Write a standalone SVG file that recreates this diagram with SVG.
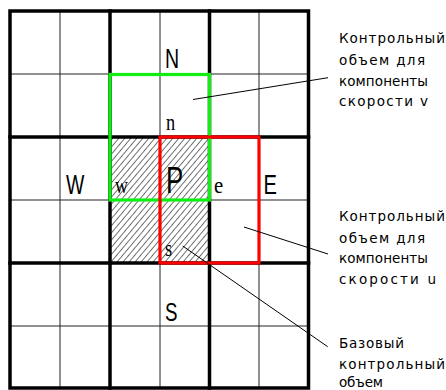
<svg xmlns="http://www.w3.org/2000/svg" width="446" height="390" viewBox="0 0 446 390">
<style>
.thin{stroke:#222;stroke-width:1;fill:none}
.thick{stroke:#000;stroke-width:3.5;fill:none;stroke-linecap:square}
.cvv{stroke:#11ee11;stroke-width:3.2;fill:none}
.cvu{stroke:#ff0000;stroke-width:3.2;fill:none}
.lead{stroke:#000;stroke-width:1;fill:none}
.big{font-family:"Liberation Sans",Arial,sans-serif;fill:#000}
.ser{font-family:"Liberation Serif","Times New Roman",serif;fill:#000;font-size:23px}
.note{font-family:"DejaVu Sans",sans-serif;font-size:13.5px;fill:#000}
</style>
<defs>
<pattern id="hatch" width="4.6" height="10" patternUnits="userSpaceOnUse" patternTransform="rotate(40)">
<line x1="0" y1="0" x2="0" y2="10" stroke="#000" stroke-width="1.1"/>
</pattern>
</defs>
<rect width="446" height="390" fill="#fff"/>
<g id="base-cv">
<rect x="110" y="137" width="99.5" height="126" fill="url(#hatch)"/>
</g>
<g id="grid">
<path class="thin" d="M60 11V388M160 11V388M259 11V388M10 74H308.5M10 200H308.5M10 326H308.5"/>
<path class="thick" d="M110 11V388M209.5 11V388M10 137H308.5M10 263H308.5"/>
<rect class="thick" x="10" y="11" width="298.5" height="377"/>
</g>
<g id="cv-v">
<rect class="cvv" x="110" y="74.5" width="99.5" height="125.5"/>
</g>
<g id="cv-u">
<rect class="cvu" x="160" y="137" width="99" height="126"/>
</g>
<g id="connectors">
<line class="lead" x1="193" y1="99.5" x2="328" y2="77.7"/>
<line class="lead" x1="244" y1="227" x2="328" y2="254"/>
<line class="lead" x1="182.7" y1="246" x2="327.7" y2="346.7"/>
</g>
<g id="node-N"><text class="big" font-size="28" transform="translate(165,68.3) scale(0.7,1)">N</text></g>
<g id="node-W"><text class="big" font-size="27" transform="translate(66,194) scale(0.72,1)">W</text></g>
<g id="node-P"><text class="big" font-size="37" transform="translate(166,193) scale(0.7,1)">P</text></g>
<g id="node-E"><text class="big" font-size="28" transform="translate(263.5,194) scale(0.72,1)">E</text></g>
<g id="node-S"><text class="big" font-size="26" transform="translate(165,320.5) scale(0.72,1)">S</text></g>
<g id="face-n"><text class="ser" transform="translate(166,130) scale(0.8,1)">n</text></g>
<g id="face-w"><text class="ser" transform="translate(115,193.3) scale(0.78,1)">w</text></g>
<g id="face-e"><text class="ser" transform="translate(214,192.7) scale(0.9,1)">e</text></g>
<g id="face-s"><text class="ser" transform="translate(165,256) scale(0.8,1)">s</text></g>
<g id="label-v">
<text class="note" x="339" y="42.7" textLength="106" lengthAdjust="spacing">Контрольный</text>
<text class="note" x="339" y="64.5" textLength="86" lengthAdjust="spacing">объем для</text>
<text class="note" x="339" y="85.5" textLength="89" lengthAdjust="spacing">компоненты</text>
<text class="note" x="339" y="106" textLength="89" lengthAdjust="spacing">скорости v</text>
</g>
<g id="label-u">
<text class="note" x="339" y="221" textLength="106" lengthAdjust="spacing">Контрольный</text>
<text class="note" x="339" y="242.7" textLength="86" lengthAdjust="spacing">объем для</text>
<text class="note" x="339" y="263" textLength="89" lengthAdjust="spacing">компоненты</text>
<text class="note" x="339" y="283.5" textLength="97" lengthAdjust="spacing">скорости u</text>
</g>
<g id="label-base">
<text class="note" x="339" y="348.3" textLength="65" lengthAdjust="spacing">Базовый</text>
<text class="note" x="339" y="369" textLength="106" lengthAdjust="spacing">контрольный</text>
<text class="note" x="339" y="386.5" textLength="44" lengthAdjust="spacing">объем</text>
</g>
</svg>
